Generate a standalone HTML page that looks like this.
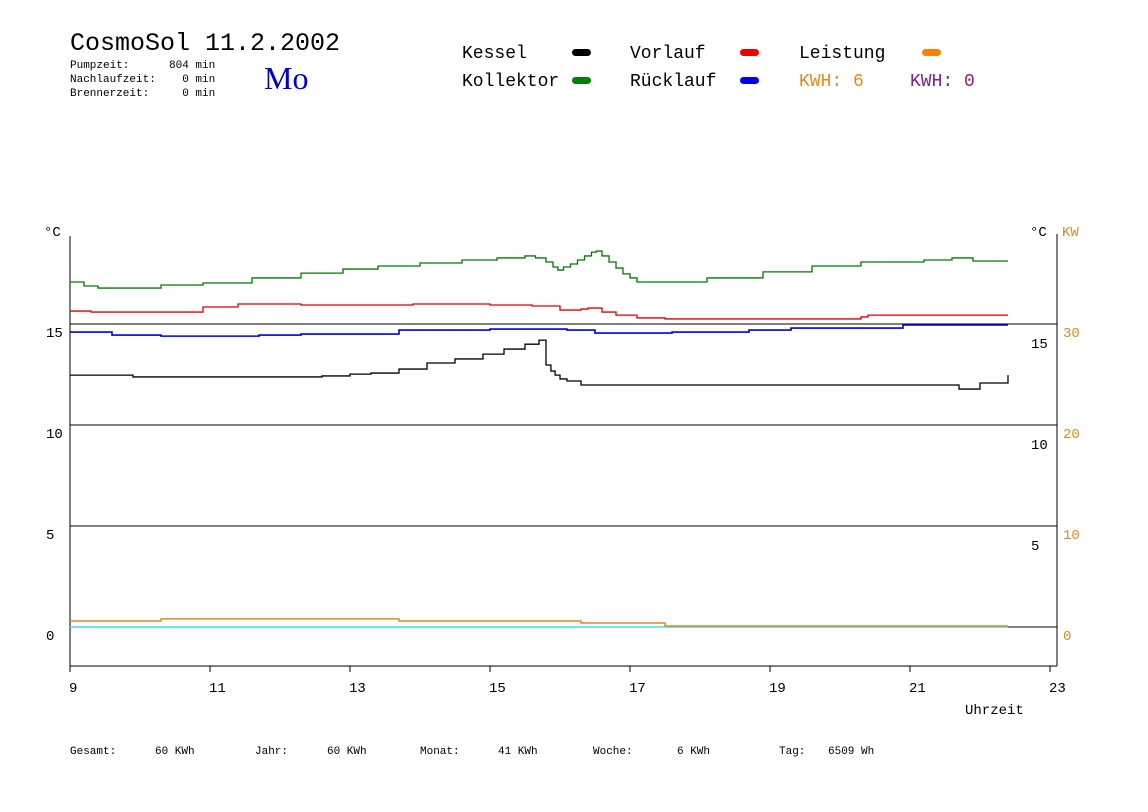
<!DOCTYPE html>
<html><head><meta charset="utf-8"><style>
body{margin:0;background:#fff;width:1148px;height:812px;overflow:hidden;font-family:"Liberation Mono",monospace}
svg{position:absolute;left:0;top:0}
</style></head><body>
<svg width="1148" height="812" font-family="Liberation Mono, monospace">
<text x="70" y="50" font-size="25" fill="#000">CosmoSol 11.2.2002</text>
<g font-size="11" fill="#000">
<text x="70" y="68" xml:space="preserve">Pumpzeit:      804 min</text>
<text x="70" y="82" xml:space="preserve">Nachlaufzeit:    0 min</text>
<text x="70" y="96" xml:space="preserve">Brennerzeit:     0 min</text>
</g>
<text x="264" y="89" font-size="32" fill="#0000cc" font-family="Liberation Serif, serif">Mo</text>
<g font-size="18">
<text x="462" y="58" fill="#000">Kessel</text><rect x="572" y="49" width="19" height="7" rx="3.5" fill="#000"/>
<text x="462" y="86" fill="#000">Kollektor</text><rect x="572" y="77" width="19" height="7" rx="3.5" fill="#008000"/>
<text x="630" y="58" fill="#000">Vorlauf</text><rect x="740" y="49" width="19" height="7" rx="3.5" fill="#ee0000"/>
<text x="630" y="86" fill="#000">Rücklauf</text><rect x="740" y="77" width="19" height="7" rx="3.5" fill="#0000ee"/>
<text x="799" y="58" fill="#000">Leistung</text><rect x="922" y="49" width="19" height="7" rx="3.5" fill="#ff8000"/>
<text x="799" y="86" fill="#e08a20">KWH: 6</text>
<text x="910" y="86" fill="#802080">KWH: 0</text>
</g>
<g id="axes"></g>
<g id="series"></g>
<g font-size="11" fill="#000">
<text x="70" y="754">Gesamt:</text><text x="155" y="754">60 KWh</text>
<text x="255" y="754">Jahr:</text><text x="327" y="754">60 KWh</text>
<text x="420" y="754">Monat:</text><text x="498" y="754">41 KWh</text>
<text x="593" y="754">Woche:</text><text x="677" y="754">6 KWh</text>
<text x="779" y="754">Tag:</text><text x="828" y="754">6509 Wh</text>
</g>
</svg>
<script>
const hours=[9,9.2,9.4,9.9,10.3,10.9,11.6,12.3,12.9,13.4,14.0,14.6,15.1,15.5,15.65,15.8,15.9,15.97,16.05,16.15,16.25,16.35,16.45,16.52,16.6,16.7,16.8,16.9,17.0,17.1,17.6,18.1,18.9,19.6,20.3,21.2,21.6,21.9,22.4];
const kollektor=[17.08,16.88,16.78,16.78,16.93,17.03,17.28,17.52,17.72,17.87,18.02,18.17,18.27,18.37,18.27,18.07,17.82,17.67,17.82,17.97,18.17,18.37,18.56,18.61,18.37,18.07,17.77,17.48,17.28,17.08,17.08,17.28,17.58,17.87,18.07,18.17,18.27,18.12,18.12];
const vorlaufT=[9,9.3,10.9,11.4,12.3,12.9,13.9,15.0,15.6,16.0,16.3,16.4,16.6,16.8,17.1,17.5,19.0,20.3,20.4,22.4];
const vorlauf=[15.64,15.59,15.84,15.99,15.94,15.94,15.99,15.94,15.89,15.69,15.74,15.79,15.59,15.44,15.30,15.25,15.25,15.35,15.44,15.44];
const ruecklaufT=[9,9.6,10.3,11.7,12.3,13.7,15.0,15.5,16.1,16.5,17.6,18.7,19.3,20.4,20.9,22.4];
const ruecklauf=[14.6,14.45,14.4,14.45,14.5,14.7,14.75,14.75,14.7,14.55,14.6,14.7,14.8,14.8,14.95,14.95];
const kesselT=[9,9.9,10.9,12.6,13.0,13.3,13.7,14.1,14.5,14.9,15.2,15.5,15.7,15.76,15.8,15.87,15.93,16.0,16.1,16.3,17.0,20.7,21.5,21.7,22.0,22.4];
const kessel=[12.47,12.38,12.38,12.43,12.52,12.57,12.77,13.07,13.27,13.51,13.76,14.0,14.2,14.2,12.97,12.67,12.47,12.28,12.18,11.98,11.98,11.98,11.98,11.78,12.08,12.47];
const leistungT=[9,10.3,13.7,16.3,17.5,22.4];
const leistung=[0.6,0.8,0.6,0.4,0.1,0.1];
const cyanT=[9,22.4];
const cyan=[0,0];
const yTicksL=[0,5,10,15];
const yTicksR=[5,10,15];
const kwTicks=[0,10,20,30];
const xTicks=[9,11,13,15,17,19,21,23];

const X=h=>70+(h-9)*70;
const Y=t=>627-t*20.2;
const YK=k=>627-k*10.1;
const NS='http://www.w3.org/2000/svg';
function mk(tag,attrs,parent){const e=document.createElementNS(NS,tag);for(const k in attrs)e.setAttribute(k,attrs[k]);parent.appendChild(e);return e;}
const ax=document.getElementById('axes'), sg=document.getElementById('series');
yTicksL.forEach(t=>{const l=mk('line',{x1:70,x2:1057,y1:Y(t),y2:Y(t),stroke:'#000','stroke-width':1},ax);


const tx=mk('text',{x:46,y:Y(t)+13,'font-size':14,fill:'#000'},ax);tx.textContent=t;

});
yTicksR.forEach(t=>{const tx=mk('text',{x:1031,y:Y(t)+24,'font-size':14,fill:'#000'},ax);tx.textContent=t;

});
kwTicks.forEach(k=>{const tx=mk('text',{x:1063,y:YK(k)+13,'font-size':14,fill:'#e08a20'},ax);tx.textContent=k;

});
let a=mk('line',{x1:70,x2:70,y1:236,y2:672,stroke:'#000'},ax);


a=mk('line',{x1:1057,x2:1057,y1:234,y2:666,stroke:'#000'},ax);


a=mk('line',{x1:70,x2:1057,y1:666,y2:666,stroke:'#000'},ax);


xTicks.forEach(h=>{mk('line',{x1:X(h),x2:X(h),y1:666,y2:672,stroke:'#000'},ax);
const tx=mk('text',{x:X(h)-1,y:692,'font-size':14,fill:'#000'},ax);tx.textContent=h;

});
[['°C',44,236,'#000','y-unit-left'],['°C',1030,236,'#000','y-unit-right'],['KW',1062,236,'#e08a20','kw-unit'],['Uhrzeit',965,714,'#000','x-axis-title']].forEach(d=>{
const tx=mk('text',{x:d[1],y:d[2],'font-size':14,fill:d[3]},ax);tx.textContent=d[0];

});
function step(ts,vs,yf,color,name,w){let d='M'+X(ts[0])+' '+yf(vs[0]);
for(let i=1;i<ts.length;i++){d+=' H'+X(ts[i])+' V'+yf(vs[i]);}
const p=mk('path',{d:d,fill:'none',stroke:color,'stroke-width':w||1.3},sg);

}
step(cyanT,cyan,YK,'#40e0e0','series-cyan',1.5);
step(leistungT,leistung,YK,'#e08a20','series-leistung',1.5);
step(hours,kollektor,Y,'#007a00','series-kollektor');
step(vorlaufT,vorlauf,Y,'#dd0000','series-vorlauf');
step(ruecklaufT,ruecklauf,Y,'#0000dd','series-ruecklauf',1.6);
step(kesselT,kessel,Y,'#000','series-kessel');
</script>
</body></html>
